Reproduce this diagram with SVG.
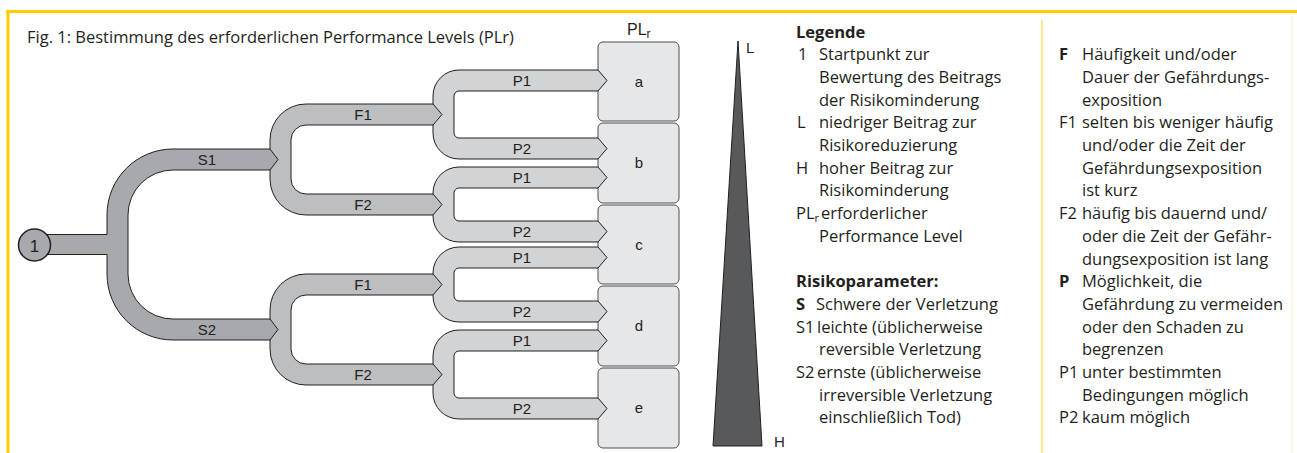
<svg xmlns="http://www.w3.org/2000/svg" width="1297" height="453" viewBox="0 0 1297 453">
<style>
.band{stroke:#231f20;stroke-width:1;stroke-linejoin:miter}
.s{fill:#a7a9ac}.f{fill:#bcbec0}.p{fill:#d1d3d4}
.box{fill:#e6e7e8;stroke:#4d4d4f;stroke-width:1}
.lbl{font-family:"Liberation Sans",Arial,sans-serif;font-size:15px;fill:#231f20;text-anchor:middle}
.blbl{font-family:"Liberation Sans",Arial,sans-serif;font-size:15px;fill:#231f20;text-anchor:middle}
.hv{font-family:"Liberation Sans",Arial,sans-serif;font-size:15px;fill:#231f20}
.lg{font-family:"Open Sans","Noto Sans",sans-serif;font-size:16.5px;fill:#231f20}
.b{font-weight:bold}
.title{font-family:"Open Sans","Noto Sans",sans-serif;font-size:16.5px;fill:#231f20}
</style>
<rect width="1297" height="453" fill="#ffffff"/>
<g id="frame">
<line x1="6" y1="11.5" x2="1297" y2="11.5" stroke="#ffcc00" stroke-width="3"/>
<line x1="8" y1="10" x2="8" y2="453" stroke="#ffcc00" stroke-width="3"/>
<line x1="1042" y1="20" x2="1042" y2="453" stroke="#ffd84a" stroke-width="1.3"/>
<line x1="1292" y1="14" x2="1292" y2="453" stroke="#fff0c0" stroke-width="1"/>
</g>
<text class="title" x="27" y="42.5">Fig. 1: Bestimmung des erforderlichen Performance Levels (PLr)</text>
<g id="boxes">
<g id="box-a"><rect class="box" x="598" y="42" width="81" height="79" rx="5"/><text class="blbl" x="639" y="87">a</text></g>
<g id="box-b"><rect class="box" x="598" y="123" width="81" height="80" rx="5"/><text class="blbl" x="639" y="168">b</text></g>
<g id="box-c"><rect class="box" x="598" y="205" width="81" height="79" rx="5"/><text class="blbl" x="639" y="250">c</text></g>
<g id="box-d"><rect class="box" x="598" y="286" width="81" height="80" rx="5"/><text class="blbl" x="639" y="331">d</text></g>
<g id="box-e"><rect class="box" x="598" y="368" width="81" height="80" rx="5"/><text class="blbl" x="639" y="413">e</text></g>
<text class="hv" x="627" y="35" style="font-size:16px">PL<tspan style="font-size:12px" dy="3">r</tspan></text>
</g>
<g id="connectors">
<g id="p-branches">
<path class="band p" d="M 598 70 L 607 80.5 L 598 91 L 459 91 A 5 5 0 0 0 454 96 L 454 133 A 5 5 0 0 0 459 138 L 598 138 L 607 148.5 L 598 159 L 459 159 A 26 26 0 0 1 433 133 L 433 96 A 26 26 0 0 1 459 70 Z"/>
<path class="band p" d="M 598 167 L 607 177.5 L 598 188 L 459 188 A 5 5 0 0 0 454 193 L 454 216 A 5 5 0 0 0 459 221 L 598 221 L 607 231.5 L 598 242 L 459 242 A 26 26 0 0 1 433 216 L 433 193 A 26 26 0 0 1 459 167 Z"/>
<path class="band p" d="M 598 247 L 607 257.5 L 598 268 L 459 268 A 5 5 0 0 0 454 273 L 454 296 A 5 5 0 0 0 459 301 L 598 301 L 607 311.5 L 598 322 L 459 322 A 26 26 0 0 1 433 296 L 433 273 A 26 26 0 0 1 459 247 Z"/>
<path class="band p" d="M 598 330 L 607 340.5 L 598 351 L 459 351 A 5 5 0 0 0 454 356 L 454 393 A 5 5 0 0 0 459 398 L 598 398 L 607 408.5 L 598 419 L 459 419 A 26 26 0 0 1 433 393 L 433 356 A 26 26 0 0 1 459 330 Z"/>
<text class="lbl" x="522" y="86">P1</text>
<text class="lbl" x="522" y="154">P2</text>
<text class="lbl" x="522" y="183">P1</text>
<text class="lbl" x="522" y="237">P2</text>
<text class="lbl" x="522" y="263">P1</text>
<text class="lbl" x="522" y="317">P2</text>
<text class="lbl" x="522" y="346">P1</text>
<text class="lbl" x="522" y="414">P2</text>
</g>
<g id="f-branches">
<path class="band f" d="M 433 104 L 442 114.5 L 433 125 L 306 125 A 15 15 0 0 0 291 140 L 291 179 A 15 15 0 0 0 306 194 L 433 194 L 442 204.5 L 433 215 L 306 215 A 36 36 0 0 1 270 179 L 270 140 A 36 36 0 0 1 306 104 Z"/>
<path class="band f" d="M 433 274 L 442 284.5 L 433 295 L 306 295 A 15 15 0 0 0 291 310 L 291 349 A 15 15 0 0 0 306 364 L 433 364 L 442 374.5 L 433 385 L 306 385 A 36 36 0 0 1 270 349 L 270 310 A 36 36 0 0 1 306 274 Z"/>
<text class="lbl" x="363" y="120">F1</text>
<text class="lbl" x="363" y="210">F2</text>
<text class="lbl" x="363" y="290">F1</text>
<text class="lbl" x="363" y="380">F2</text>
</g>
<g id="s-branch">
<path class="band s" d="M 270 149 L 278 159.5 L 270 170 L 173 170 A 45 45 0 0 0 128 215 L 128 274 A 45 45 0 0 0 173 319 L 270 319 L 278 329.5 L 270 340 L 173 340 A 66 66 0 0 1 107 274 L 107 254.5 L 40 254.5 L 40 234.5 L 107 234.5 L 107 215 A 66 66 0 0 1 173 149 Z"/>
<text class="lbl" x="207" y="165">S1</text>
<text class="lbl" x="207" y="335">S2</text>
</g>
</g>
<g id="start">
<circle cx="34.5" cy="245" r="16" fill="#a7a9ac" stroke="#231f20" stroke-width="1.5"/>
<text class="blbl" x="34.5" y="251.5" style="font-size:17px">1</text>
</g>
<g id="scale">
<polygon points="738,41 762,446 713,446" fill="#58595b" stroke="#231f20" stroke-width="1"/>
<text class="hv" x="746" y="53">L</text>
<text class="hv" x="774" y="447">H</text>
</g>
<g id="legend1" class="lg">
<text class="b" x="796" y="37.5">Legende</text>
<text x="798" y="60.2">1</text><text x="819" y="60.2">Startpunkt zur</text>
<text x="819" y="82.9">Bewertung des Beitrags</text>
<text x="819" y="105.6">der Risikominderung</text>
<text x="797" y="128.3">L</text><text x="819" y="128.3">niedriger Beitrag zur</text>
<text x="819" y="151">Risikoreduzierung</text>
<text x="796" y="173.7">H</text><text x="819" y="173.7">hoher Beitrag zur</text>
<text x="819" y="196.4">Risikominderung</text>
<text x="796" y="219.1">PL<tspan style="font-size:11px" dy="3">r</tspan></text><text x="821" y="219.1">erforderlicher</text>
<text x="819" y="241.8">Performance Level</text>
<text class="b" x="796" y="287.2">Risikoparameter:</text>
<text class="b" x="796" y="309.9">S</text><text x="816" y="309.9">Schwere der Verletzung</text>
<text x="796" y="332.6">S1</text><text x="817" y="332.6">leichte (üblicherweise</text>
<text x="819" y="355.3">reversible Verletzung</text>
<text x="796" y="378">S2</text><text x="817" y="378">ernste (üblicherweise</text>
<text x="819" y="400.7">irreversible Verletzung</text>
<text x="819" y="423.4">einschließlich Tod)</text>
</g>
<g id="legend2" class="lg">
<text class="b" x="1059" y="60.2">F</text><text x="1082" y="60.2">Häufigkeit und/oder</text>
<text x="1082" y="82.9">Dauer der Gefährdungs-</text>
<text x="1082" y="105.6">exposition</text>
<text x="1059" y="128.3">F1</text><text x="1082" y="128.3">selten bis weniger häufig</text>
<text x="1082" y="151">und/oder die Zeit der</text>
<text x="1082" y="173.7">Gefährdungsexposition</text>
<text x="1082" y="196.4">ist kurz</text>
<text x="1059" y="219.1">F2</text><text x="1082" y="219.1">häufig bis dauernd und/</text>
<text x="1082" y="241.8">oder die Zeit der Gefähr-</text>
<text x="1082" y="264.5">dungsexposition ist lang</text>
<text class="b" x="1059" y="287.2">P</text><text x="1082" y="287.2">Möglichkeit, die</text>
<text x="1082" y="309.9">Gefährdung zu vermeiden</text>
<text x="1082" y="332.6">oder den Schaden zu</text>
<text x="1082" y="355.3">begrenzen</text>
<text x="1059" y="378">P1</text><text x="1082" y="378">unter bestimmten</text>
<text x="1082" y="400.7">Bedingungen möglich</text>
<text x="1059" y="423.4">P2</text><text x="1082" y="423.4">kaum möglich</text>
</g>
</svg>
